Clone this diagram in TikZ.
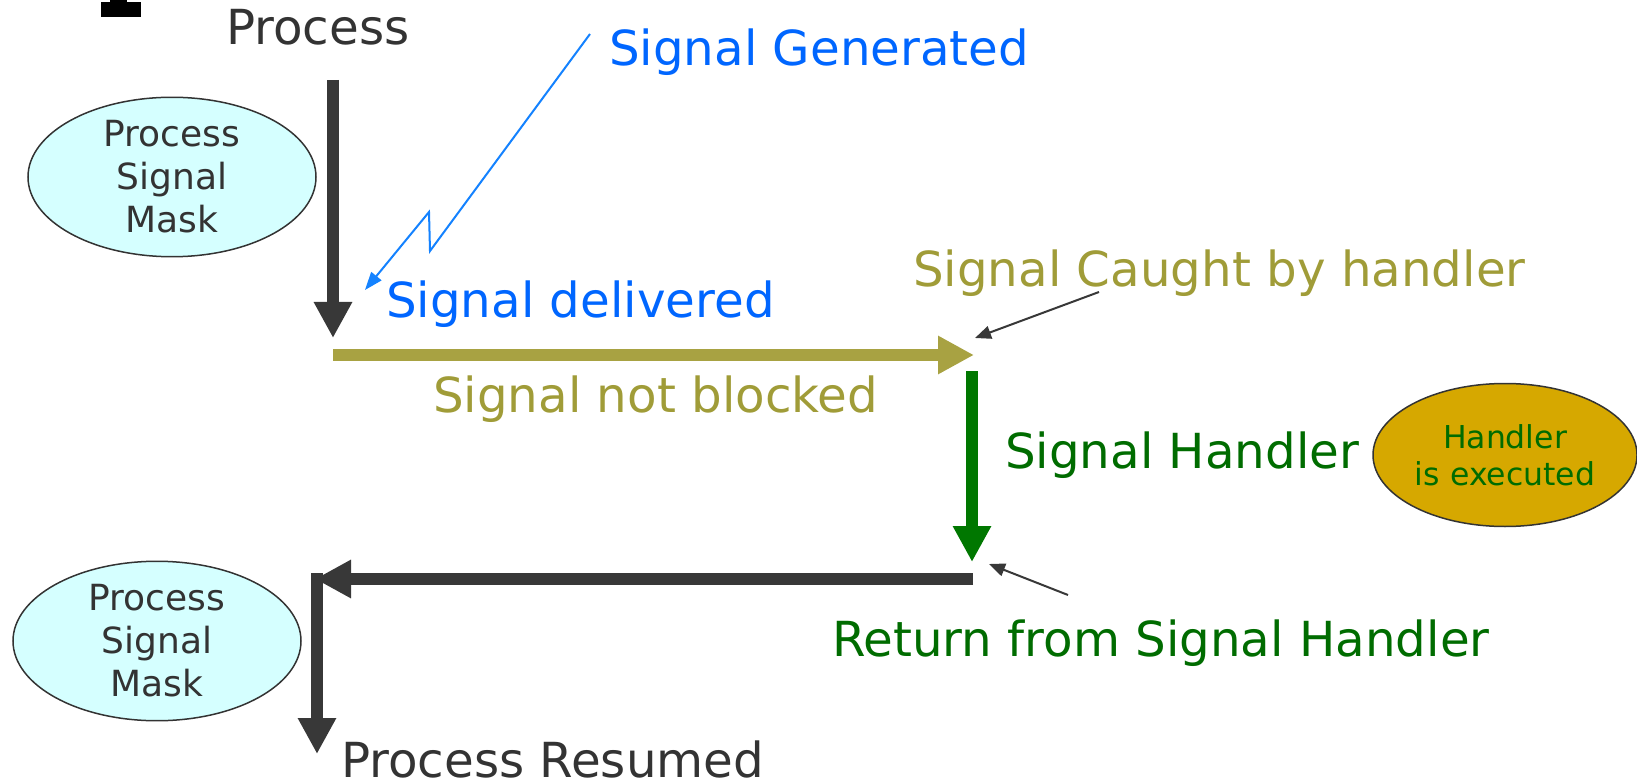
\documentclass[tikz,border=0pt]{standalone}
\usepackage{fontspec}
\setmainfont{DejaVu Sans}
\usetikzlibrary{arrows.meta,shapes.geometric}

\definecolor{darkline}{RGB}{56,56,56}
\definecolor{darktext}{RGB}{51,51,51}
\definecolor{sigblue}{RGB}{0,102,255}
\definecolor{boltblue}{RGB}{20,130,255}
\definecolor{oliveline}{RGB}{168,162,66}
\definecolor{olivetext}{RGB}{160,156,56}
\definecolor{hgreen}{RGB}{0,119,0}
\definecolor{hgreentext}{RGB}{0,108,0}
\definecolor{maskfill}{RGB}{213,255,255}
\definecolor{goldfill}{RGB}{214,168,0}

\begin{document}
\begin{tikzpicture}[x=1pt,y=-1pt,
  lbl/.style={anchor=base west, inner sep=0pt, font=\fontsize{48.3pt}{56pt}\selectfont},
  maskbox/.style={ellipse, draw=black!80, line width=1.5pt, fill=maskfill,
    inner sep=0pt, minimum width=288pt, align=center, text=darktext,
    font=\fontsize{36pt}{43pt}\selectfont},
  flow/.style={line width=12pt, -{Triangle[width=36pt,length=36pt]}},
  pointer/.style={line width=2pt, darkline, -{Triangle[width=13pt,length=16pt]}},
]
\useasboundingbox (0,0) rectangle (1637,783);

% corner mark
\fill[black] (101,2) rectangle (141,17);
\fill[black] (110,0) rectangle (127,2);

% labels
\node[lbl, text=darktext]   (proc)    at (226,45)  {Process};
\node[lbl, text=sigblue]    (gen)     at (609,66)  {Signal Generated};
\node[lbl, text=sigblue]    (deliv)   at (386,318) {Signal delivered};
\node[lbl, text=olivetext]  (notblk)  at (433,412) {Signal not blocked};
\node[lbl, text=olivetext]  (caught)  at (913,287) {Signal Caught by handler};
\node[lbl, text=hgreentext] (shand)   at (1005,468){Signal Handler};
\node[lbl, text=hgreentext] (ret)     at (832,656) {Return from Signal Handler};
\node[lbl, text=darktext]   (resumed) at (341,777) {Process Resumed};

% ellipses
\node[maskbox, minimum height=157pt] (mask1) at (172,177) {Process\\Signal\\Mask};
\node[maskbox, minimum height=158pt] (mask2) at (157,641) {Process\\Signal\\Mask};
\node[ellipse, draw=black!80, line width=1.5pt, fill=goldfill, inner sep=0pt,
      minimum width=264pt, minimum height=143pt, align=center, text=hgreentext,
      font=\fontsize{31.5pt}{37pt}\selectfont] (hexec) at (1505,455) {Handler\\is executed};

% main flow
\coordinate (a0) at (333,80);
\coordinate (a1) at (333,338);
\draw[flow, darkline] (a0) -- (a1);

\coordinate (b0) at (333,355);
\coordinate (b1) at (974,355);
\draw[flow, oliveline] (b0) -- (b1);

\coordinate (c0) at (972,371);
\coordinate (c1) at (972,562);
\draw[flow, hgreen] (c0) -- (c1);

\coordinate (d0) at (973,579);
\coordinate (d1) at (315,579);
\draw[flow, darkline] (d0) -- (d1);

\coordinate (e0) at (317,573);
\coordinate (e1) at (317,754);
\draw[flow, darkline] (e0) -- (e1);

% signal arrival bolt
\coordinate (g0) at (590,34);
\coordinate (g1) at (430,251);
\coordinate (g2) at (429,212);
\coordinate (g3) at (365,290);
\draw[boltblue, line width=2pt, line join=miter, -{Triangle[width=13pt,length=18pt]}]
  (g0) -- (g1) -- (g2) -- (g3);

% pointers
\coordinate (p0) at (1099,292);
\coordinate (p1) at (975,338);
\draw[pointer] (p0) -- (p1);
\coordinate (q0) at (1068,595);
\coordinate (q1) at (989,564);
\draw[pointer] (q0) -- (q1);
\end{tikzpicture}
\end{document}
